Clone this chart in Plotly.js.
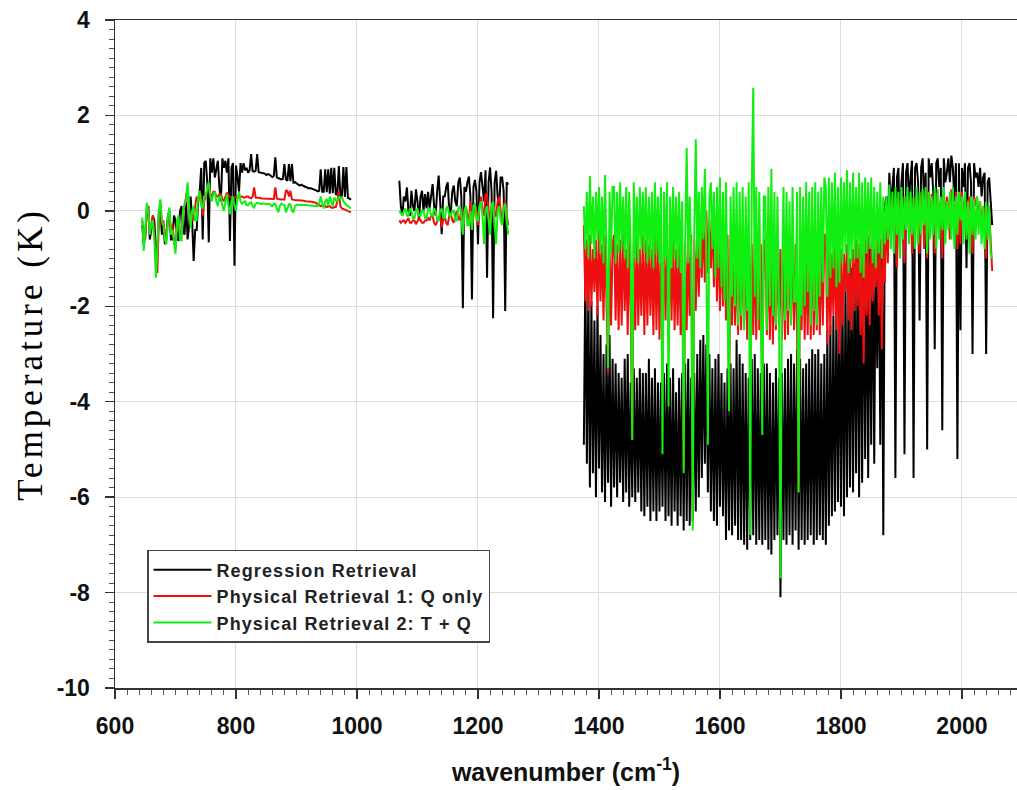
<!DOCTYPE html>
<html><head><meta charset="utf-8">
<script src="https://cdn.plot.ly/plotly-3.0.1.min.js"></script>
<style>
body{margin:0;background:#fff}
#chart{width:1017px;height:790px}
.ytitle{letter-spacing:4px}
.legendtext{letter-spacing:1.1px}
</style>
</head><body><div id="chart"></div><script>
// wavenumber grid of the three spectral bands (cm-1): first channel and sampling
const bandStarts = [645, 1070, 1375];
const bandSteps = [2.5, 2.5, 2.5];

// y-axis tick labels (plain hyphen minus, as in the figure)
const yTickValues = [-10, -8, -6, -4, -2, 0, 2, 4];
const yTickLabels = ['-10', '-8', '-6', '-4', '-2', '0', '2', '4'];

// Regression Retrieval
const blackBand1 = [
 -0.3,-0.7,-0.5,0.0,0.1,-0.6,-0.4,-0.1,-0.2,-0.8,-0.9,0.0,0.1,-0.5,-0.3,-0.7,-0.5,-0.1,0.0,-0.6,
 -0.6,-0.1,-0.2,-0.5,-0.63,0.0,0.1,-0.4,-0.5,0.2,-0.6,-0.3,0.3,-0.2,-1.05,-0.4,-0.4,0.2,0.4,0.9,
 -0.6,1.0,1.05,0.6,-0.66,1.1,0.8,1.1,0.7,0.9,1.05,0.5,0.2,1.1,0.9,1.05,0.8,1.1,-0.63,0.9,
 1.0,-1.15,0.95,0.7,0.4,1.0,0.8,1.0,0.85,0.9,0.8,0.85,1.19,0.83,0.82,0.84,1.19,0.81,0.8,0.8,
 0.79,0.78,0.75,0.77,0.76,0.74,0.71,0.73,1.12,0.7,0.69,0.68,0.66,0.67,0.98,0.66,0.63,0.98,0.62,0.98,
 0.59,0.6,0.57,0.56,0.53,0.55,0.53,0.52,0.5,0.49,0.47,0.48,0.47,0.45,0.44,0.43,0.41,0.42,0.87,0.4,
 0.4,0.87,0.39,0.87,0.36,0.9,0.37,0.9,0.35,0.34,0.94,0.32,0.3,0.92,0.29,0.92,0.27,0.26,0.23];
const blackBand2 = [
 0.63,0.1,-0.1,0.3,0.2,0.49,0.0,-0.1,0.42,0.1,0.0,0.45,0.2,-0.2,0.3,0.42,0.0,0.35,0.05,0.4,
 0.05,0.3,0.56,0.1,-0.1,0.4,0.74,0.2,-0.49,0.3,0.3,0.5,0.6,0.0,-0.05,0.4,0.53,0.2,0.1,0.6,
 0.7,0.3,-2.04,0.5,0.4,0.6,0.72,0.3,-1.86,0.5,0.65,0.4,-0.7,0.6,0.81,0.5,0.2,0.85,-1.4,0.6,
 0.91,0.4,-2.25,0.6,0.84,0.3,0.1,0.7,0.7,0.4,-2.1,0.6,0.55];
const blackBand3 = [
 -4.9,-1.2,-5.3,-1.6,-5.8,-1.9,-5.5,-2.3,-6.0,-2.0,-5.4,-2.6,-5.9,-3.0,-6.1,-2.8,-5.7,-2.6,-6.2,-3.1,
 -5.8,-3.2,-6.0,-3.4,-5.7,-3.5,-6.1,-3.1,-5.9,-3.0,-6.2,-3.6,-6.0,-3.3,-6.1,-3.5,-5.9,-3.3,-6.3,-3.4,
 -6.4,-3.4,-6.2,-3.1,-6.5,-3.5,-6.3,-3.3,-6.5,-3.6,-6.3,-3.6,-6.2,-3.4,-6.5,-3.2,-6.4,-3.5,-6.6,-3.3,
 -6.3,-3.8,-6.6,-3.5,-6.4,-3.4,-6.7,-3.2,-6.5,-3.1,-6.6,-3.5,-6.5,-3.4,-6.3,-3.0,-6.0,-2.7,-5.6,-2.6,
 -5.3,-2.8,-5.9,-3.0,-6.3,-3.3,-6.5,-3.1,-6.6,-3.0,-6.2,-3.4,-6.4,-3.6,-6.9,-3.3,-6.7,-3.2,-6.8,-3.3,
 -6.6,-2.7,-6.9,-3.0,-6.9,-3.2,-7.0,-3.4,-7.1,-3.5,-6.9,-3.1,-6.8,-3.0,-7.0,-3.3,-6.9,-3.4,-7.0,-3.2,
 -6.9,-3.2,-7.1,-3.4,-7.2,-3.6,-6.9,-3.3,-6.8,-3.5,-8.1,-3.4,-6.9,-3.3,-7.0,-3.1,-6.8,-3.0,-7.0,-3.2,
 -6.7,-2.9,-7.1,-3.1,-6.9,-3.3,-7.0,-3.2,-6.9,-3.1,-6.8,-2.9,-7.0,-3.0,-6.9,-2.9,-6.8,-3.2,-6.9,-3.0,
 -7.0,-2.5,-6.6,-2.4,-6.4,-2.2,-6.3,-2.0,-6.1,-1.9,-6.2,-1.7,-6.4,-1.5,-6.0,-1.4,-5.8,-1.2,-5.9,-1.1,
 -5.5,-0.9,-6.0,-0.8,-5.7,-0.6,-5.2,-0.5,-5.6,-0.7,-4.9,-0.4,-5.3,-0.5,-3.3,-0.3,-4.9,-0.2,-6.8,0.1,
 0.3,-0.4,0.8,0.1,0.5,0.9,-5.6,0.7,0.9,-0.8,0.6,1.0,-5.1,0.8,1.0,0.2,0.7,1.05,-5.6,0.9,
 1.0,0.6,-2.3,0.9,1.1,0.2,0.8,-5.0,1.1,0.7,1.0,0.4,-2.9,1.0,1.1,0.5,0.9,-4.6,1.1,0.6,
 0.8,1.1,0.6,1.16,0.9,0.2,1.0,-5.2,1.0,-2.5,0.9,0.5,1.0,-1.2,0.9,1.0,0.6,-3.0,1.0,0.7,
 0.8,0.5,0.9,0.3,0.7,0.8,-3.0,0.6,0.7,0.2,-0.3];

// Physical Retrieval 1: Q only
const redBand1 = [
 -0.2,-0.5,-0.6,0.0,0.1,-0.4,-0.3,-0.1,-0.5,-0.9,-1.3,-0.2,0.15,-0.3,-0.2,-0.5,-0.6,-0.2,-0.1,-0.4,
 -0.3,-0.6,-0.8,-0.3,-0.2,-0.5,-0.5,0.0,0.1,0.3,0.5,0.0,-0.3,-0.1,-0.2,0.1,0.3,0.2,0.4,0.3,
 -0.1,0.2,0.3,0.45,0.55,0.35,0.3,0.4,0.4,0.3,0.3,0.35,0.35,0.25,0.2,0.3,0.38,0.32,0.3,0.28,
 0.25,0.28,0.3,0.29,0.28,0.3,0.3,0.28,0.28,0.3,0.3,0.27,0.26,0.3,0.49,0.28,0.28,0.27,0.27,0.26,
 0.26,0.26,0.26,0.25,0.25,0.26,0.26,0.25,0.49,0.26,0.25,0.24,0.24,0.24,0.24,0.42,0.42,0.3,0.42,0.24,
 0.23,0.23,0.22,0.22,0.22,0.21,0.21,0.21,0.2,0.2,0.2,0.19,0.19,0.18,0.18,0.16,0.14,0.12,0.1,0.11,
 0.12,0.1,0.08,0.09,0.1,0.07,0.06,0.08,0.08,0.2,0.42,0.1,0.05,0.04,0.02,0.01,0.0,-0.02,-0.03];
const redBand2 = [
 -0.2,-0.25,-0.22,-0.2,-0.25,-0.2,-0.15,-0.25,-0.25,-0.2,-0.2,-0.28,-0.2,-0.15,-0.2,-0.25,-0.25,-0.2,-0.2,-0.15,
 -0.2,-0.1,-0.1,-0.25,-0.3,-0.2,-0.15,-0.1,-0.35,-0.2,-0.1,-0.25,-0.3,-0.1,-0.05,-0.2,-0.25,-0.1,0.0,-0.15,
 -0.2,0.05,-0.45,-0.1,0.1,-0.1,-0.2,0.2,-0.4,-0.1,0.15,0.0,-0.3,0.1,0.3,0.0,-0.1,0.35,0.35,0.0,
 -0.2,0.1,0.2,-0.1,-0.1,0.2,0.3,0.0,-0.25,0.1,0.2,-0.1,-0.3];
const redBand3 = [
 -0.3,-1.9,-0.6,-2.1,-0.5,-2.0,-0.8,-1.7,-0.6,-2.2,-0.4,-1.9,-0.7,-2.3,-0.5,-2.0,-3.4,-0.8,-2.4,-0.7,
 -0.5,-2.3,-0.7,-2.5,-0.6,-2.4,-0.4,-2.1,-0.8,-2.6,-0.5,-2.2,-4.8,-0.7,-2.5,-0.6,-2.4,-0.8,-2.2,-0.5,
 -2.6,-0.6,-2.4,-0.7,-2.2,-0.8,-2.6,-0.5,-2.5,-0.6,-2.7,-0.7,-2.4,-0.8,-2.3,-0.6,-2.6,-0.7,-2.3,-0.6,
 -2.5,-0.8,-2.4,-0.7,-2.6,-0.6,-5.4,-0.7,-2.5,-0.6,-2.2,-0.5,-6.2,-0.6,-2.1,-0.4,-1.8,-0.3,-1.4,-0.1,
 -1.5,0.0,-1.3,-0.2,-1.2,0.0,-1.6,-0.2,-1.9,-0.3,-2.1,-0.4,-2.0,-0.6,-2.3,-0.5,-4.1,-0.6,-2.4,-0.5,
 -2.4,-0.7,-2.6,-0.5,-2.5,-0.6,-2.3,-0.8,-2.7,-0.6,-2.5,-0.7,-2.6,-0.5,-2.7,-0.6,-2.5,-0.7,-4.0,-0.6,
 -0.7,-2.6,-0.5,-2.7,-0.6,-2.8,-0.8,-2.5,-0.6,-2.4,-0.8,-2.7,-0.6,-2.7,-0.5,-2.6,-0.7,-2.3,-0.6,-2.5,
 -0.7,-2.6,-5.9,-0.6,-2.5,-0.7,-2.7,-0.8,-2.6,-0.5,-2.7,-0.4,-2.6,-0.6,-2.5,-0.7,-2.6,-0.6,-2.4,-0.5,
 -0.5,-2.8,-0.8,-2.6,-0.9,-2.2,-0.7,-2.5,-0.6,-3.0,-0.8,-2.4,-0.9,-1.7,-0.7,-2.3,-1.0,-2.5,-0.8,-2.1,
 -0.6,-2.0,-0.7,-2.6,-0.9,-3.2,-0.6,-2.2,-0.5,-2.4,-0.8,-1.9,-0.8,-1.6,-0.5,-2.2,-0.6,-2.9,-0.4,-1.5,
 0.1,-1.1,0.3,-0.5,0.2,-0.4,0.3,-1.2,0.2,-0.2,0.4,-0.3,-1.1,0.3,0.2,-0.5,0.3,-0.9,0.25,-0.3,
 0.35,-0.2,-0.9,0.3,0.4,-0.8,0.3,-1.0,0.4,-0.3,0.35,0.0,-0.9,0.3,0.4,-0.2,0.2,-1.0,0.35,-0.2,
 0.3,0.1,-0.6,0.45,0.3,-0.5,0.4,-0.8,0.2,-0.7,0.4,-0.3,0.35,-0.5,0.2,0.3,-0.2,-0.9,0.3,0.1,
 0.3,-0.2,0.2,-0.4,0.1,0.0,-1.0,0.1,0.0,-0.6,-1.26];

// Physical Retrieval 2: T + Q
const greenBand1 = [
 -0.14,-0.84,-0.4,0.17,0.0,-0.5,-0.3,-0.2,-0.6,-1.4,-0.8,0.0,0.24,-0.2,-0.3,-0.6,-0.7,-0.1,0.07,-0.5,
 -0.4,-0.7,-0.9,-0.2,-0.1,-0.6,-0.63,0.0,0.14,0.2,0.6,0.1,-0.35,0.0,0.1,-0.2,-0.2,0.3,0.42,0.1,
 0.05,0.3,0.3,0.5,0.6,0.3,0.2,0.35,0.4,0.2,0.1,0.3,0.3,0.1,0.0,0.2,0.35,0.1,-0.07,0.2,
 0.3,0.1,0.0,0.25,0.4,0.2,0.15,0.18,0.2,0.12,0.12,0.16,0.18,0.1,0.07,0.15,0.17,0.16,0.15,0.14,
 0.16,0.15,0.14,0.15,0.15,0.12,0.1,0.14,0.15,0.05,-0.03,0.1,0.15,0.13,0.12,-0.03,0.05,0.14,0.14,0.0,
 -0.02,0.1,0.13,0.13,0.13,0.12,0.12,0.12,0.12,0.12,0.12,0.11,0.11,0.11,0.11,0.1,0.1,0.15,0.3,0.15,
 0.05,0.2,0.25,0.1,0.3,0.2,0.1,0.28,0.22,0.2,0.3,0.25,0.3,0.2,0.15,0.12,0.1,0.08,0.05];
const greenBand2 = [
 0.0,-0.05,-0.1,0.0,0.05,-0.1,-0.1,0.05,0.0,-0.15,-0.15,0.0,0.05,-0.1,-0.1,0.0,0.0,-0.15,-0.15,0.05,
 0.05,-0.1,-0.1,0.05,0.0,-0.2,-0.2,0.0,0.05,-0.15,-0.15,0.05,0.1,-0.1,-0.1,0.0,0.0,-0.2,-0.2,0.05,
 0.1,-0.1,-0.5,0.0,0.1,-0.3,-0.3,0.0,-0.4,0.1,0.15,-0.2,-0.2,0.1,0.2,-0.1,-0.7,0.0,0.1,-0.2,
 -0.5,0.1,0.2,-0.3,-0.7,0.0,0.1,-0.2,-0.3,0.05,0.15,-0.2,-0.5];
const greenBand3 = [
 0.1,-0.8,0.4,-1.0,0.73,-0.7,0.3,-1.0,0.4,-0.6,0.5,-0.9,0.3,-1.1,0.75,-0.8,-3.3,0.4,-0.9,0.5,
 0.5,-1.1,0.4,-0.9,0.6,-0.8,0.3,-1.0,0.5,-1.2,0.4,-0.9,-4.8,0.6,-1.0,0.3,-1.1,0.5,-0.8,0.4,
 -0.9,0.5,-1.1,0.3,-1.0,0.4,-1.2,0.6,-0.9,0.3,-1.1,0.5,-5.1,0.4,-1.0,0.6,-4.1,0.3,-1.2,0.5,
 -1.0,0.3,-1.2,0.4,-1.3,0.2,-5.5,-0.6,1.32,-1.1,0.3,-1.0,-6.7,-0.5,1.5,-1.0,0.4,-1.2,0.5,-0.6,
 0.88,-0.9,-4.9,0.3,0.6,-0.8,0.4,-1.4,0.5,-1.2,0.7,-1.6,0.4,-1.9,0.6,-1.5,-4.2,0.3,-1.8,0.5,
 -2.0,0.6,-2.4,0.4,-2.2,0.5,-2.5,0.3,-2.1,0.6,-6.8,0.4,2.58,-1.8,0.5,-2.3,0.4,-2.2,-4.7,0.3,
 0.3,-2.5,0.5,-2.0,0.88,-2.2,0.4,-2.4,0.3,-1.9,-7.7,-1.6,0.5,-2.3,0.4,-2.1,0.2,-2.4,0.5,-1.9,
 -1.9,0.4,-5.9,0.5,-2.2,0.3,-2.0,0.6,-1.7,0.4,-2.4,0.5,-2.1,0.6,-2.4,0.4,-1.8,0.5,-1.5,0.7,
 0.5,-1.8,0.7,-1.4,0.6,-1.2,0.8,-1.6,0.5,-1.5,0.7,-1.1,0.6,-0.9,0.85,-1.3,0.6,-1.1,0.8,-1.0,
 0.5,-1.0,0.8,-1.3,0.6,-1.4,0.7,-0.9,0.6,-0.8,0.7,-1.1,0.5,-1.2,0.4,-0.9,0.6,-1.0,0.3,-0.7,
 0.3,-0.6,0.55,-0.8,0.4,-0.9,0.5,-0.5,0.4,-1.0,0.5,-0.6,0.3,-0.4,0.5,-0.7,0.4,-0.5,0.3,-0.8,
 0.5,-0.7,0.4,-0.5,0.45,-0.3,0.5,-0.9,0.4,-0.6,0.3,-0.5,0.5,-0.8,0.45,-0.6,0.3,-0.4,0.5,-0.7,
 0.2,-0.4,0.4,-0.6,0.5,-0.8,0.3,-0.5,0.4,-0.2,0.3,-0.7,0.4,-0.6,0.2,-0.9,0.3,-0.5,0.25,-0.6,
 0.3,-0.5,0.2,-0.7,0.1,-0.8,0.2,-0.6,0.1,-0.9,-1.0];

const seriesNames = ['Regression Retrieval', 'Physical Retrieval 1: Q only', 'Physical Retrieval 2: T + Q'];
const seriesColors = ['#000000', '#ee1010', '#11ee11'];

function joinBands(bands) {
  const xs = [], ys = [];
  bands.forEach((vals, b) => {
    if (b > 0) { xs.push(null); ys.push(null); }
    vals.forEach((v, i) => { xs.push(bandStarts[b] + i * bandSteps[b]); ys.push(v); });
  });
  return {xs, ys};
}

const allSeries = [
  [blackBand1, blackBand2, blackBand3],
  [redBand1, redBand2, redBand3],
  [greenBand1, greenBand2, greenBand3]
];

const traces = allSeries.map((bands, k) => {
  const d = joinBands(bands);
  return {
    type: 'scatter', mode: 'lines', x: d.xs, y: d.ys,
    name: seriesNames[k], connectgaps: false,
    line: {color: seriesColors[k], width: 2.0}
  };
});

const tickFont = {family: 'Liberation Sans, Arial, sans-serif', size: 23, weight: 'bold', color: '#111'};

const layout = {
  width: 1017, height: 790,
  margin: {l: 115, r: 0, t: 20, b: 102},
  paper_bgcolor: '#ffffff', plot_bgcolor: '#ffffff',
  showlegend: true,
  xaxis: {
    range: [600, 2091], tick0: 600, dtick: 200,
    showgrid: true, gridcolor: '#dcdcdc', gridwidth: 1, zeroline: false,
    showline: true, linecolor: '#333', linewidth: 1.5, mirror: true,
    ticks: 'outside', ticklen: 9, tickwidth: 1.5, tickcolor: '#333',
    minor: {dtick: 20, ticks: 'outside', ticklen: 5, tickwidth: 1, tickcolor: '#555', showgrid: false},
    tickfont: tickFont, ticklabelstandoff: 8,
    title: {text: 'wavenumber (cm<sup>-1</sup>)', font: {family: 'Liberation Sans, Arial, sans-serif', size: 25, weight: 'bold', color: '#111'}, standoff: 25}
  },
  yaxis: {
    range: [-10, 4], tickmode: 'array', tickvals: yTickValues, ticktext: yTickLabels,
    showgrid: true, gridcolor: '#dcdcdc', gridwidth: 1, zeroline: false,
    showline: true, linecolor: '#333', linewidth: 1.5,
    ticks: 'outside', ticklen: 9, tickwidth: 1.5, tickcolor: '#333',
    minor: {tickmode: 'linear', tick0: -10, dtick: 0.2, ticks: 'outside', ticklen: 5, tickwidth: 1, tickcolor: '#555', showgrid: false},
    tickfont: tickFont, ticklabelstandoff: 10,
    title: {text: 'Temperature (K)', font: {family: 'Liberation Serif, Times New Roman, serif', size: 35, color: '#000'}, standoff: 3}
  },
  legend: {
    x: 0.0355, y: 0.2066, xanchor: 'left', yanchor: 'top',
    bgcolor: '#ffffff', bordercolor: '#444', borderwidth: 1.5,
    font: {family: 'Liberation Sans, Arial, sans-serif', size: 18, weight: 'bold', color: '#222'},
    tracegroupgap: 0, itemwidth: 58
  }
};

Plotly.newPlot('chart', traces, layout, {displayModeBar: false, staticPlot: true});
</script></body></html>
